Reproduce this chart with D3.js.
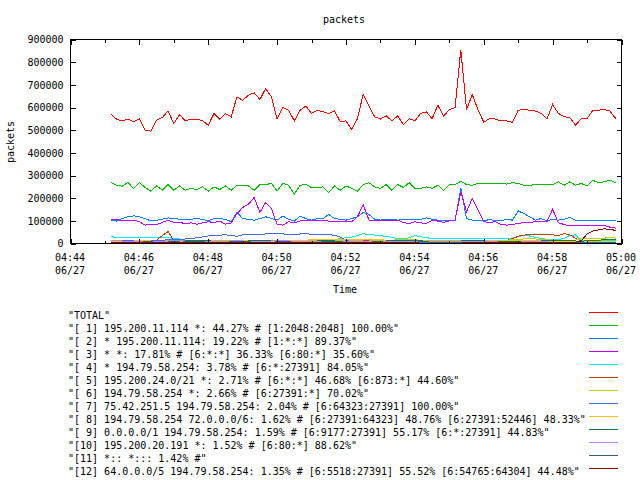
<!DOCTYPE html>
<html><head><meta charset="utf-8">
<script src="https://cdn.jsdelivr.net/npm/d3@7"></script>
<style>
body{margin:0;background:#fff;}
text{font-family:"DejaVu Sans Mono","Liberation Mono",monospace;font-size:10px;fill:#000;}
</style>
</head><body><svg id="c" width="640" height="480"></svg>
<script>
// ---- data (values in thousands of packets, one sample every 10 s) ----
const dateDay = "2011-06-27";
const startTime = "04:45:10";
const stepSeconds = 10;
const unit = 1000;

const total = [573,549,541,549,537,549,500,496,544,556, 585,529,569,541,549,549,541,522,573,549,
  573,559,647,632,654,665,635,684,647,549, 600,588,541,588,606,574,588,581,574,585,
  537,541,503,551,659,606,559,549,563,541, 563,525,551,541,574,581,551,610,562,591,
  599,855,591,657,590,535,551,549,541,541, 534,588,591,588,584,574,549,613,574,559,
  556,522,551,551,588,588,591,584,551];
const s1 = [269,257,253,269,243,269,247,231,254,235, 260,235,254,235,243,238,250,231,250,238,
  254,235,257,257,254,235,260,260,265,231, 265,257,218,257,260,247,247,250,225,254,
  235,254,243,231,260,268,250,243,260,235, 260,247,268,243,243,250,243,257,235,260,
  260,275,260,257,265,265,265,265,265,262, 268,265,257,257,260,262,260,260,272,257,
  272,257,265,253,279,268,272,279,268];
const s2 = [103,99,110,118,122,118,110,99,103,107, 113,110,107,107,107,110,107,100,110,110,
  107,96,138,110,107,103,110,118,110,103, 121,107,99,121,110,103,110,110,128,110,
  107,103,110,118,137,128,107,103,107,107, 103,106,106,106,107,113,107,103,100,100,
  100,243,110,103,103,99,106,100,100,107, 103,144,132,118,103,110,100,107,103,107,
  115,103,100,103,100,103,100,103,103];
const s3 = [106,106,100,100,103,96,81,84,84,93, 103,93,93,88,91,85,91,96,93,99,
  85,91,132,159,173,203,137,181,154,84, 81,96,91,99,103,103,103,100,99,99,
  99,96,96,118,172,103,103,103,103,103, 103,93,88,96,91,88,103,99,93,100,
  103,228,140,199,147,96,93,96,84,81, 84,88,93,93,96,96,96,151,91,84,
  78,78,78,81,81,81,80,72,68];
const s4 = [32,25,25,25,25,25,25,26,26,26, 26,22,20,15,14,14,13,12,12,12,
  12,11,11,12,12,11,10,10,12,12, 11,10,10,11,12,12,13,14,16,18,
  21,26,28,35,43,40,37,34,32,27, 22,21,25,35,30,25,23,23,23,23,
  23,23,23,22,22,23,23,23,23,23, 24,30,36,33,27,22,19,18,18,22,
  36,38,12,14,15,15,14,15,15];
const s5 = [10,10,12,12,10,9,9,10,15,35, 53,13,10,10,12,14,15,14,12,10,
  9,9,10,12,14,12,10,9,9,10, 11,12,10,9,8,9,10,11,10,9,
  8,8,9,10,11,12,12,11,10,9, 9,10,12,13,12,10,9,9,10,11,
  12,12,10,9,9,10,11,12,13,14, 21,32,37,40,39,38,40,38,35,44,
  38,23,10,8,7,7,8,8,8];
const s6 = [14,14,13,12,12,11,11,12,13,14, 15,15,14,13,12,12,13,14,14,13,
  12,12,11,11,12,13,14,14,13,12, 12,12,13,14,14,13,12,12,12,13,
  14,14,13,12,11,11,12,13,14,15, 16,17,17,16,15,14,14,13,13,14,
  15,15,14,13,13,13,14,14,15,15, 16,18,20,21,20,18,16,15,14,14,
  14,15,22,23,23,24,24,25,24];
const s7 = [15,15,14,14,13,13,14,14,15,15, 16,17,18,20,22,25,29,33,35,37,
  38,36,32,38,40,40,40,42,44,43, 42,41,40,42,44,40,38,40,40,36,
  28,14,8,7,7,6,6,6,7,7, 7,6,6,6,5,5,5,6,6,6,
  6,6,6,6,5,5,5,5,5,6, 6,6,6,6,6,5,5,5,5,5,
  5,5,5,5,5,5,5,5,5];
const s8 = [8,9,10,10,11,12,12,11,10,9, 8,8,9,10,11,12,13,12,11,10,
  10,10,11,12,13,13,12,11,10,10, 11,12,13,14,15,16,16,16,16,16,
  16,16,16,16,16,16,16,16,15,15, 14,14,13,12,12,11,11,10,10,10,
  9,9,9,10,10,11,11,12,12,13, 14,14,15,14,13,12,11,10,10,9,
  9,8,8,8,9,9,10,10,10];
const s9 = [5,5,6,7,8,9,10,10,9,8, 8,9,11,13,15,15,14,12,10,9,
  8,8,9,10,11,12,13,13,12,11, 10,9,8,8,9,10,11,12,12,11,
  10,9,8,7,7,8,9,10,11,12, 13,14,15,14,12,10,9,8,8,9,
  10,11,12,13,12,11,10,9,8,8, 7,7,8,9,10,11,12,13,14,13,
  12,11,10,12,14,15,16,18,17];
const s10 = [12,12,11,10,10,9,8,8,9,10, 11,12,12,11,10,9,8,8,8,9,
  10,11,12,11,10,9,9,10,11,12, 12,11,10,9,8,8,8,9,10,10,
  9,8,7,7,8,9,10,10,9,8, 7,7,8,9,10,10,9,8,7,7,
  7,7,8,8,8,8,7,7,6,6, 6,6,7,7,8,8,7,6,6,6,
  6,6,6,5,5,5,5,6,6];
const s11 = [6,6,5,5,6,6,7,7,6,6, 5,5,6,7,8,8,7,6,5,5,
  6,7,8,8,7,6,5,5,6,7, 7,7,6,6,5,5,6,7,8,8,
  7,6,5,5,5,6,7,7,6,5, 5,5,6,6,7,7,6,5,5,5,
  5,6,6,6,5,5,5,5,5,5, 5,5,5,6,6,6,6,6,5,5,
  5,5,5,6,6,6,6,6,6];
const s12 = [4,4,3,3,3,3,4,4,4,4, 3,3,3,3,3,3,3,4,4,4,
  3,3,3,3,3,3,3,3,3,3, 3,3,3,3,3,3,3,3,3,3,
  3,3,3,3,3,3,3,3,3,3, 3,3,3,3,2,2,2,2,2,2,
  2,2,3,3,3,3,3,3,3,3, 3,3,3,3,3,3,3,3,3,3,
  3,5,12,42,55,60,65,62,58];

const seriesValues = [total,s1,s2,s3,s4,s5,s6,s7,s8,s9,s10,s11,s12];
const legendLabels = [
  '"TOTAL"',
  '"[ 1] 195.200.11.114 *: 44.27% # [1:2048:2048] 100.00%"',
  '"[ 2] * 195.200.11.114: 19.22% # [1:*:*] 89.37%"',
  '"[ 3] * *: 17.81% # [6:*:*] 36.33% [6:80:*] 35.60%"',
  '"[ 4] * 194.79.58.254: 3.78% # [6:*:27391] 84.05%"',
  '"[ 5] 195.200.24.0/21 *: 2.71% # [6:*:*] 46.68% [6:873:*] 44.60%"',
  '"[ 6] 194.79.58.254 *: 2.66% # [6:27391:*] 70.02%"',
  '"[ 7] 75.42.251.5 194.79.58.254: 2.04% # [6:64323:27391] 100.00%"',
  '"[ 8] 194.79.58.254 72.0.0.0/6: 1.62% # [6:27391:64323] 48.76% [6:27391:52446] 48.33%"',
  '"[ 9] 0.0.0.0/1 194.79.58.254: 1.59% # [6:9177:27391] 55.17% [6:*:27391] 44.83%"',
  '"[10] 195.200.20.191 *: 1.52% # [6:80:*] 88.62%"',
  '"[11] *:: *::: 1.42% #"',
  '"[12] 64.0.0.0/5 194.79.58.254: 1.35% # [6:5518:27391] 55.52% [6:54765:64304] 44.48%"'
];
const colors = ["#ff0000","#00c000","#0080ff","#c000ff","#00eeee","#c04000","#c8c800",
  "#4169e1","#ffc020","#008040","#c080ff","#306080","#8b0000"];
const xStart = "04:44:00", xEnd = "05:00:00";
const xMajorTicks = ["04:44","04:46","04:48","04:50","04:52","04:54","04:56","04:58","05:00"];
const dateLabel = "06/27";
const yTickValues = [0,100000,200000,300000,400000,500000,600000,700000,800000,900000];
const titleText = "packets", xTitle = "Time", yTitle = "packets";

// ---- drawing ----
const parse = d3.timeParse("%Y-%m-%d %H:%M:%S");
const t0 = parse(dateDay + " " + startTime);
const times = total.map((_, i) => d3.timeSecond.offset(t0, i * stepSeconds));

const L = 70, R = 621, T = 39, B = 243;
const svg = d3.select("#c");
const x = d3.scaleTime().domain([parse(dateDay+" "+xStart), parse(dateDay+" "+xEnd)]).range([L, R]);
const y = d3.scaleLinear().domain([0, 900000]).range([B, T]);

// title
svg.append("text").attr("x", 344).attr("y", 23).attr("text-anchor","middle").text(titleText);

// data lines (aliased, like the original bitmap renderer)
const line = d3.line().x((d,i) => x(times[i]) + 0.5).y(d => y(d * unit) + 0.5);
seriesValues.forEach((vals, k) => {
  svg.append("path").datum(vals).attr("d", line)
    .attr("fill","none").attr("stroke", colors[k]).attr("stroke-width", 1)
    .attr("shape-rendering","crispEdges");
});

// border
svg.append("rect").attr("x", L+0.5).attr("y", T+0.5).attr("width", R-L).attr("height", B-T)
  .attr("fill","none").attr("stroke","#000").attr("stroke-width",1).attr("shape-rendering","crispEdges");

// y ticks (left + right, inward)
const yAxisL = d3.axisLeft(y).tickValues(yTickValues).tickSize(-5).tickPadding(12).tickFormat(d3.format("d"));
const gyl = svg.append("g").attr("transform", `translate(${L+0.5},0.5)`).call(yAxisL);
gyl.select(".domain").remove();
gyl.selectAll("text").attr("x", -7).style("font-family",'"DejaVu Sans Mono",monospace').style("font-size","10px");
const gyr = svg.append("g").attr("transform", `translate(${R+0.5},0.5)`)
  .call(d3.axisRight(y).tickValues(yTickValues).tickSize(-5).tickFormat(""));
gyr.select(".domain").remove();

// x ticks
const hm = d3.timeParse("%Y-%m-%d %H:%M");
const majorDates = xMajorTicks.map(s => hm(dateDay + " " + s));
const minorDates = d3.timeMinute.range(x.domain()[0], d3.timeMinute.offset(x.domain()[1], 1))
  .filter(d => d.getMinutes() % 2 === 1);
const gxb = svg.append("g").attr("transform", `translate(0.5,${B+0.5})`)
  .call(d3.axisBottom(x).tickValues(majorDates).tickSize(-5).tickFormat(""));
gxb.select(".domain").remove();
const gxbm = svg.append("g").attr("transform", `translate(0.5,${B+0.5})`)
  .call(d3.axisBottom(x).tickValues(minorDates).tickSize(-3).tickFormat(""));
gxbm.select(".domain").remove();
const gxt = svg.append("g").attr("transform", `translate(0.5,${T+0.5})`)
  .call(d3.axisTop(x).tickValues(majorDates).tickSize(-5).tickFormat(""));
gxt.select(".domain").remove();
const gxtm = svg.append("g").attr("transform", `translate(0.5,${T+0.5})`)
  .call(d3.axisTop(x).tickValues(minorDates).tickSize(-3).tickFormat(""));
gxtm.select(".domain").remove();
svg.selectAll(".tick line").attr("stroke","#000").attr("shape-rendering","crispEdges");

// x tick labels (two lines)
majorDates.forEach((d, i) => {
  svg.append("text").attr("x", x(d)).attr("y", 261).attr("text-anchor","middle").text(xMajorTicks[i]);
  svg.append("text").attr("x", x(d)).attr("y", 274).attr("text-anchor","middle").text(dateLabel);
});

// axis titles
svg.append("text").attr("x", 345).attr("y", 293).attr("text-anchor","middle").text(xTitle);
svg.append("text").attr("transform","translate(14,142) rotate(-90)").attr("text-anchor","middle").text(yTitle);

// legend
legendLabels.forEach((lab, k) => {
  const ly = 312.5 + 13 * k;
  svg.append("text").attr("x", 68).attr("y", ly + 6.5).text(lab).style("white-space","pre");
  svg.append("line").attr("x1", 589).attr("x2", 618).attr("y1", ly).attr("y2", ly)
    .attr("stroke", colors[k]).attr("stroke-width", 1).attr("shape-rendering","crispEdges");
});
</script>
</body></html>
